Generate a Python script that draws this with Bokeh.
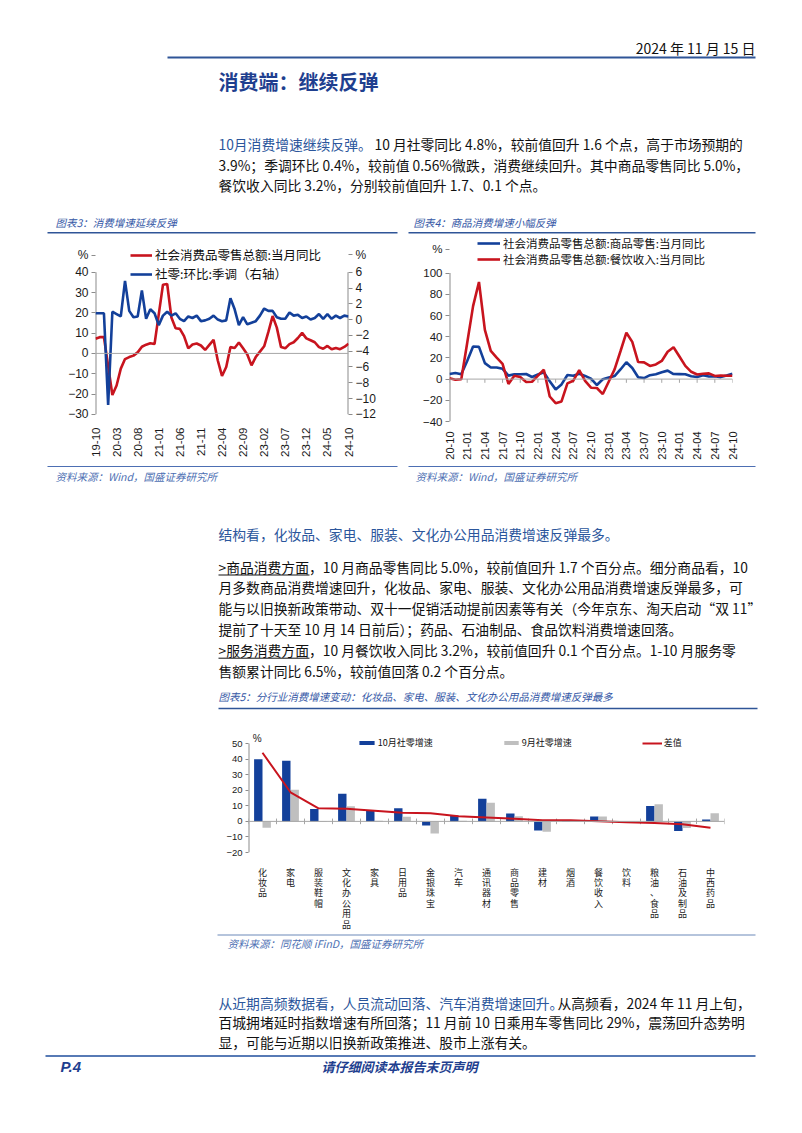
from math import pi
from bokeh.plotting import figure
from bokeh.models import Range1d, LinearAxis, FixedTicker, Legend, LegendItem, ColumnDataSource, Span
from bokeh.layouts import column, row
from bokeh.embed import file_html
from bokeh.resources import INLINE
from bokeh.core.properties import value
from bokeh.transform import dodge

# ---------------- data ----------------
# Chart 3: 2019-10 .. 2024-10 monthly
retail_yoy = [7.2, 8.0, 8.0, -6.2, -20.5, -15.8, -7.5, -2.8, -1.8, -1.1, 0.5, 3.3, 4.3, 5.0, 4.6,
              19.2, 33.8, 34.2, 17.7, 12.4, 12.1, 8.5, 2.5, 4.4, 4.9, 3.9, 1.7, 4.2, 6.7, -3.5,
              -11.1, -6.7, 3.1, 2.7, 5.4, 2.5, -0.5, -5.9, -1.8, 0.9, 3.5, 10.6, 18.4, 12.7, 3.1,
              2.5, 4.6, 5.5, 7.6, 10.1, 7.4, 6.5, 5.5, 3.1, 2.3, 3.7, 2.0, 2.7, 2.1, 3.2, 4.8]
retail_mom_sa = [0.8, 0.8, 0.8, -10.8, 1.0, 0.7, 0.4, 4.9, 1.1, 0.3, 0.4, 3.7, 0.1, 1.3, 0.8,
                 -0.7, 0.5, 1.0, 0.5, 0.8, 0.1, -0.2, 0.4, 0.2, 0.5, -0.2, -0.1, 0.1, 0.5, 0.0,
                 -0.2, -0.1, 2.7, 1.3, -0.7, 0.3, -0.6, -0.4, -0.2, 0.5, 1.4, 1.1, 1.1, 0.3, 0.1,
                 0.1, 0.9, 0.5, 0.6, 0.2, 0.4, 0.0, 0.2, 0.7, 0.1, 0.7, 0.1, 0.5, 0.2, 0.5, 0.4]
ticks3_labels = ["19-10", "20-03", "20-08", "21-01", "21-06", "21-11", "22-04",
                 "22-09", "23-02", "23-07", "23-12", "24-05", "24-10"]

# Chart 4: 2020-10 .. 2024-10 monthly
goods_yoy = [4.9, 5.8, 4.6, 17.0, 30.7, 30.4, 15.1, 10.9, 11.0, 9.7, 3.3, 4.5, 4.6, 4.8, 2.0,
             4.3, 6.5, -2.1, -9.7, -5.0, 3.9, 3.2, 5.1, 3.0, 0.5, -5.6, -0.1, 1.4, 2.9, 9.1,
             15.9, 10.5, 1.7, 1.0, 3.7, 4.6, 6.5, 8.0, 4.8, 4.7, 4.6, 2.7, 2.0, 3.6, 2.5,
             2.7, 1.9, 3.3, 5.0]
catering_yoy = [0.8, -0.6, -0.1, 34.0, 68.9, 91.6, 46.4, 26.6, 20.2, 14.3, -4.5, 3.1, 2.0, -2.7,
                -2.5, 3.2, 8.9, -16.4, -22.7, -21.1, -4.0, -1.5, 8.4, -1.7, -8.1, -8.4, -14.1,
                -2.5, 9.2, 26.3, 43.8, 35.1, 16.1, 15.8, 12.4, 13.8, 17.1, 25.8, 30.0, 21.3,
                12.5, 6.9, 4.4, 5.0, 5.4, 3.0, 3.3, 3.1, 3.2]
ticks4_labels = ["20-10", "21-01", "21-04", "21-07", "21-10", "22-01", "22-04", "22-07", "22-10",
                 "23-01", "23-04", "23-07", "23-10", "24-01", "24-04", "24-07", "24-10"]

# Chart 5: by category
cats5 = ["化妆品", "家电", "服装鞋帽", "文化办公用品", "家具", "日用品", "金银珠宝", "汽车",
         "通讯器材", "商品零售", "建材", "烟酒", "餐饮收入", "饮料", "粮油、食品", "石油及制品", "中西药品"]
oct5 = [40.0, 39.0, 8.0, 17.8, 7.3, 8.5, -2.6, 3.7, 14.5, 5.0, -5.8, 0.3, 3.2, -0.3, 9.9, -6.2, 1.2]
sep5 = [-4.1, 20.3, -0.4, 9.7, 0.4, 2.9, -7.8, 0.4, 12.0, 3.3, -6.6, -0.4, 3.1, 0.2, 11.0, -4.3, 5.3]
diff5 = [44.1, 18.7, 8.4, 8.1, 6.9, 5.6, 5.2, 3.3, 2.5, 1.7, 0.8, 0.7, 0.1, -0.5, -1.1, -1.9, -4.1]

# ---------------- style ----------------
CJK = "Noto Sans CJK SC"
LAT = "Liberation Sans"
RED = "#C8141E"
BLUE = "#13409A"
GRAY_BAR = "#BFBFBF"
AXIS = "#8C8C8C"
TXT = "#111111"
HBLUE = "#2B569C"
TBLUE = "#1F3F8F"
CAP = "#3457A6"
SRC = "#4D6FB3"
W = 802


def text_fig(y0, y1):
    p = figure(width=W, height=y1 - y0, x_range=Range1d(0, W), y_range=Range1d(y1, y0),
               output_backend="svg", toolbar_location=None, min_border=0,
               x_axis_location=None, y_axis_location=None)
    p.grid.visible = False
    p.outline_line_color = None
    return p


def txt(p, x, y, s, size="13.8px", color=TXT, style="normal", align="left", font=CJK):
    p.text(x=[x], y=[y], text=[s], text_font=value(font), text_font_size=value(size),
           text_color=color, text_font_style=style, text_align=align, text_baseline="middle")


def hline(p, x0, x1, y, color, width):
    p.segment(x0=[x0], y0=[y], x1=[x1], y1=[y], line_color=color, line_width=width)


def style_axis(ax, size):
    ax.axis_line_color = None
    ax.major_tick_line_color = AXIS
    ax.major_tick_out = 4
    ax.major_tick_in = 0
    ax.minor_tick_line_color = None
    ax.major_label_text_font = LAT
    ax.major_label_text_font_size = size
    ax.major_label_text_color = "#1a1a1a"
    ax.major_label_standoff = 3


def style_xaxis(ax, size, standoff):
    ax.axis_line_color = None
    ax.major_tick_line_color = None
    ax.minor_tick_line_color = None
    ax.major_label_text_font = LAT
    ax.major_label_text_font_size = size
    ax.major_label_text_color = "#1a1a1a"
    ax.major_label_standoff = standoff


def legend(p, items, loc, gw, gh, lh, spacing, size, standoff=3):
    lg = Legend(items=items, location=loc, orientation="vertical", glyph_width=gw, glyph_height=gh,
                label_height=lh, label_width=10, spacing=spacing, padding=0, margin=0,
                border_line_alpha=0, background_fill_alpha=0, label_text_font=CJK,
                label_text_font_size=size, label_text_color="#111111", label_standoff=standoff)
    p.add_layout(lg)
    return lg


# ---------------- header / paragraph 1 ----------------
h1 = text_fig(0, 234)
txt(h1, 755, 47, "2024 年 11 月 15 日", size="14px", align="right")
hline(h1, 167, 755, 57, "#2F5597", 2)
txt(h1, 218, 81, "消费端：继续反弹", size="20px", color=TBLUE, style="bold")
txt(h1, 218, 143.5, "10月消费增速继续反弹。", color=HBLUE)
txt(h1, 374, 143.5, "10 月社零同比 4.8%，较前值回升 1.6 个点，高于市场预期的")
txt(h1, 218, 164, "3.9%；季调环比 0.4%，较前值 0.56%微跌，消费继续回升。其中商品零售同比 5.0%，")
txt(h1, 218, 184.5, "餐饮收入同比 3.2%，分别较前值回升 1.7、0.1 个点。")
txt(h1, 55, 222, "图表3：消费增速延续反弹", size="10.5px", color=CAP, style="italic")
txt(h1, 413, 222, "图表4：商品消费增速小幅反弹", size="10.5px", color=CAP, style="italic")
hline(h1, 47, 397, 232.3, "#2F5597", 1.5)
hline(h1, 408, 755, 232.3, "#2F5597", 1.5)

# ---------------- chart 3 ----------------
x3 = list(range(len(retail_yoy)))
c3 = figure(width=400, height=228, x_range=Range1d(0, 60), y_range=Range1d(-33.54, 58.08),
            output_backend="svg", toolbar_location=None,
            min_border_left=95, min_border_right=52, min_border_top=1, min_border_bottom=38)
c3.grid.visible = False
c3.outline_line_color = None
c3.extra_y_ranges = {"r": Range1d(-12.91, 10.65)}
c3.yaxis.ticker = FixedTicker(ticks=list(range(-30, 41, 10)) + [48.4])
c3.yaxis.major_label_overrides = {48.4: "%"}
style_axis(c3.yaxis[0], "12px")
rax = LinearAxis(y_range_name="r", ticker=FixedTicker(ticks=list(range(-12, 7, 2)) + [8.2]))
rax.major_label_overrides = {8.2: "%"}
style_axis(rax, "12px")
c3.add_layout(rax, "right")
c3.xaxis.ticker = FixedTicker(ticks=list(range(0, 61, 5)))
c3.xaxis.major_label_overrides = {i * 5: s for i, s in enumerate(ticks3_labels)}
c3.xaxis.major_label_orientation = pi / 2
style_xaxis(c3.xaxis[0], "11.5px", 0)
c3.segment(x0=[0], y0=[-30], x1=[0], y1=[40], line_color=AXIS, line_width=2)
c3.segment(x0=[60], y0=[-12], x1=[60], y1=[6], y_range_name="r", line_color=AXIS, line_width=2)
c3.add_layout(Span(location=0, dimension="width", line_color="#A6A6A6", line_width=1))
r3a = c3.line(x3, retail_yoy, line_color=RED, line_width=2.6)
r3b = c3.line(x3, retail_mom_sa, y_range_name="r", line_color=BLUE, line_width=2.6)
legend(c3, [LegendItem(label="社会消费品零售总额:当月同比", renderers=[r3a]),
            LegendItem(label="社零:环比:季调（右轴）", renderers=[r3b])],
       (35, 138), 22, 14, 14, 0, "12.5px")

# ---------------- chart 4 ----------------
x4 = list(range(len(goods_yoy)))
c4 = figure(width=402, height=228, x_range=Range1d(0, 48), y_range=Range1d(-40, 135.5),
            output_backend="svg", toolbar_location=None,
            min_border_left=49, min_border_right=70, min_border_top=1, min_border_bottom=38)
c4.grid.visible = False
c4.outline_line_color = None
c4.yaxis.ticker = FixedTicker(ticks=list(range(-40, 101, 20)) + [122.5])
c4.yaxis.major_label_overrides = {122.5: "%"}
style_axis(c4.yaxis[0], "11.5px")
c4.xaxis.ticker = FixedTicker(ticks=list(range(0, 49, 3)))
c4.xaxis.major_label_overrides = {i * 3: s for i, s in enumerate(ticks4_labels)}
c4.xaxis.major_label_orientation = pi / 2
style_xaxis(c4.xaxis[0], "11px", 4)
c4.segment(x0=[0], y0=[-40], x1=[0], y1=[100], line_color=AXIS, line_width=2)
c4.add_layout(Span(location=0, dimension="width", line_color="#A6A6A6", line_width=1))
tk4 = list(range(0, 49, 3))
c4.segment(x0=tk4, y0=[0] * len(tk4), x1=tk4, y1=[-3.5] * len(tk4), line_color="#A6A6A6", line_width=1)
r4a = c4.line(x4, goods_yoy, line_color=BLUE, line_width=2.6)
r4b = c4.line(x4, catering_yoy, line_color=RED, line_width=2.6)
legend(c4, [LegendItem(label="社会消费品零售总额:商品零售:当月同比", renderers=[r4a]),
            LegendItem(label="社会消费品零售总额:餐饮收入:当月同比", renderers=[r4b])],
       (28, 154), 23, 12, 12, 0, "11.5px")

# ---------------- middle text ----------------
h2 = text_fig(462, 725)
hline(h2, 47, 397, 466, SRC, 1.2)
hline(h2, 408, 755, 466, SRC, 1.2)
txt(h2, 55, 476, "资料来源：Wind，国盛证券研究所", size="10.5px", color=SRC, style="italic")
txt(h2, 415, 476, "资料来源：Wind，国盛证券研究所", size="10.5px", color=SRC, style="italic")
txt(h2, 218, 533, "结构看，化妆品、家电、服装、文化办公用品消费增速反弹最多。", color=HBLUE)
para3 = [">商品消费方面，10 月商品零售同比 5.0%，较前值回升 1.7 个百分点。细分商品看，10",
         "月多数商品消费增速回升，化妆品、家电、服装、文化办公用品消费增速反弹最多，可",
         "能与以旧换新政策带动、双十一促销活动提前因素等有关（今年京东、淘天启动“双 11”",
         "提前了十天至 10 月 14 日前后）；药品、石油制品、食品饮料消费增速回落。",
         ">服务消费方面，10 月餐饮收入同比 3.2%，较前值回升 0.1 个百分点。1-10 月服务零",
         "售额累计同比 6.5%，较前值回落 0.2 个百分点。"]
for i, s in enumerate(para3):
    txt(h2, 218, 566 + i * 20.8, s)
hline(h2, 218, 309, 574.5, TXT, 1)
hline(h2, 218, 309, 574.5 + 4 * 20.8, TXT, 1)
txt(h2, 218, 696, "图表5：分行业消费增速变动：化妆品、家电、服装、文化办公用品消费增速反弹最多",
    size="10.5px", color=CAP, style="italic")
hline(h2, 218, 757, 708, "#2F5597", 1.5)

# ---------------- chart 5 ----------------
src5 = ColumnDataSource(dict(x=list(range(len(cats5))), oct=oct5, sep=sep5, diff=diff5))
c5 = figure(width=W, height=208, x_range=Range1d(-0.5, 16.5), y_range=Range1d(-20, 58.4),
            output_backend="svg", toolbar_location=None,
            min_border_left=248, min_border_right=78, min_border_top=5, min_border_bottom=79)
c5.grid.visible = False
c5.outline_line_color = None
c5.yaxis.ticker = FixedTicker(ticks=list(range(-20, 51, 10)))
style_axis(c5.yaxis[0], "9.5px")
c5.yaxis.major_tick_out = 3
c5.xaxis.ticker = FixedTicker(ticks=list(range(len(cats5))))
c5.xaxis.major_label_overrides = {i: "\n".join(c) for i, c in enumerate(cats5)}
style_xaxis(c5.xaxis[0], "9px", 7)
c5.xaxis.major_label_text_font = CJK
c5.xaxis.major_label_text_line_height = 0.8
c5.segment(x0=[-0.5], y0=[-20], x1=[-0.5], y1=[50], line_color=AXIS, line_width=2)
c5.add_layout(Span(location=0, dimension="width", line_color="#A6A6A6", line_width=1))
bnd = [i - 0.5 for i in range(len(cats5) + 1)]
c5.segment(x0=bnd, y0=[-1.8] * len(bnd), x1=bnd, y1=[1.8] * len(bnd), line_color="#A6A6A6", line_width=1)
b1 = c5.vbar(x=dodge("x", -0.15), top="oct", width=0.3, source=src5, fill_color=BLUE, line_color=None)
b2 = c5.vbar(x=dodge("x", 0.15), top="sep", width=0.3, source=src5, fill_color=GRAY_BAR, line_color=None)
l5 = c5.line(x="x", y="diff", source=src5, line_color=RED, line_width=2)
legend(c5, [LegendItem(label="10月社零增速", renderers=[b1])], (108.7, 103), 19, 5, 10, 0, "9px", 2)
legend(c5, [LegendItem(label="9月社零增速", renderers=[b2])], (253.7, 103), 18, 5, 10, 0, "9px", 2)
legend(c5, [LegendItem(label="差值", renderers=[l5])], (393.7, 103), 20, 10, 10, 0, "9px", 2)
c5.text(x=[-0.35], y=[53.3], text=["%"], text_font=value(LAT), text_font_size=value("10px"),
        text_align="left", text_baseline="middle", text_color="#1a1a1a")

# ---------------- bottom text ----------------
h3 = text_fig(933, 1133)
hline(h3, 217, 755, 934.5, "#9DB0D0", 1.5)
txt(h3, 227, 943, "资料来源：同花顺 iFinD，国盛证券研究所", size="10.5px", color=SRC, style="italic")
txt(h3, 218, 1002, "从近期高频数据看，人员流动回落、汽车消费增速回升。", color=HBLUE)
txt(h3, 557, 1002, "从高频看，2024 年 11 月上旬，")
txt(h3, 218, 1021.5, "百城拥堵延时指数增速有所回落；11 月前 10 日乘用车零售同比 29%，震荡回升态势明")
txt(h3, 218, 1041, "显，可能与近期以旧换新政策推进、股市上涨有关。")
hline(h3, 45, 755, 1055.5, "#1F4E9D", 1.5)
txt(h3, 60, 1066, "P.4", size="15px", color=TBLUE, style="bold italic", font=LAT)
txt(h3, 399, 1066, "请仔细阅读本报告末页声明", size="13px", color=TBLUE, style="bold italic", align="center")

layout = column(h1, row(c3, c4), h2, row(c5), h3)
open("out.html", "w").write(file_html(layout, INLINE))
